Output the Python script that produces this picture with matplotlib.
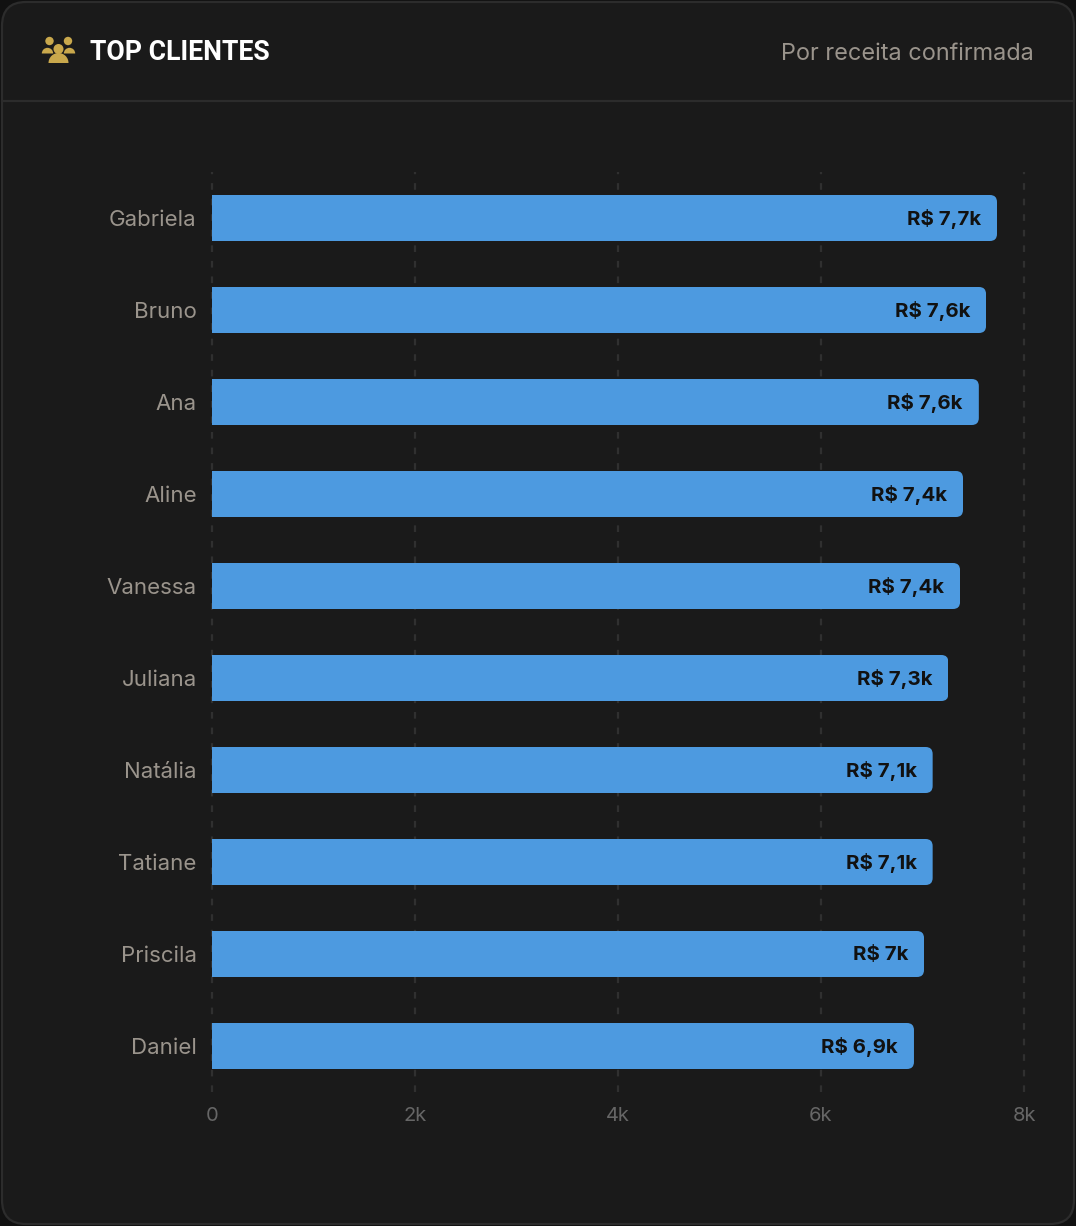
import matplotlib
matplotlib.use("Agg")
import matplotlib.pyplot as plt
from matplotlib.patches import FancyBboxPatch, Circle, Wedge
from matplotlib.transforms import IdentityTransform

clientes = ["Gabriela", "Bruno", "Ana", "Aline", "Vanessa", "Juliana", "Natália", "Tatiane", "Priscila", "Daniel"]
receita = [7734, 7626, 7555, 7399, 7370, 7255, 7100, 7100, 7015, 6916]
x_ticks = [0, 2000, 4000, 6000, 8000]
x_tick_labels = ["0", "2k", "4k", "6k", "8k"]

AZUL = "#4d9ae0"
OURO = "#c9a84c"
FUNDO = "#1a1a1a"
BORDA = "#2c2c2c"
W, H = 1076, 1226


def moeda(v):
    s = f"{v / 1000:.1f}"
    if s.endswith(".0"):
        s = s[:-2]
    return "R$ " + s.replace(".", ",") + "k"


fig = plt.figure(figsize=(W / 100, H / 100), dpi=100, facecolor="#111111")

# camada do cartao em pixels
bg = fig.add_axes([0, 0, 1, 1])
bg.set_xlim(0, W)
bg.set_ylim(H, 0)
bg.axis("off")
bg.add_patch(FancyBboxPatch((2, 2), W - 4, H - 4, boxstyle="round,pad=0,rounding_size=24",
                            fc=FUNDO, ec=BORDA, lw=1.6))
bg.plot([2, W - 2], [101, 101], color=BORDA, lw=1.6)

# icone de pessoas
for cx, cy, r in [(49.5, 41, 4.2), (68, 41, 4.2), (58.5, 49, 5)]:
    bg.add_patch(Circle((cx, cy), r, fc=OURO, ec="none"))
bg.add_patch(Wedge((47.5, 53.5), 5.7, 180, 360, fc=OURO, ec="none"))
bg.add_patch(Wedge((69.5, 53.5), 5.7, 180, 360, fc=OURO, ec="none"))
bg.add_patch(Wedge((58.5, 63), 10, 180, 360, fc=OURO, ec="none"))

bg.text(90, 53, "TOP CLIENTES", color="#ffffff", fontsize=19.2, fontweight="bold",
        family="Roboto", va="center", ha="left")
bg.text(1034, 54, "Por receita confirmada", color="#9a948c", fontsize=16.9, family="Inter",
        va="center", ha="right")

# grafico de barras
ax = fig.add_axes([212 / W, 1 - 1092 / H, (1024 - 212) / W, (1092 - 172) / H])
ax.patch.set_alpha(0)
ax.set_xlim(0, 8000)
ax.set_ylim(len(clientes) - 0.5, -0.5)
ax.set_xticks(x_ticks)
ax.set_xticklabels(x_tick_labels, color="#666666", fontsize=14.5, family="Inter")
ax.set_yticks(range(len(clientes)))
ax.set_yticklabels(clientes, color="#9a948c", fontsize=16, family="Inter")
ax.tick_params(length=0)
ax.tick_params(axis="x", pad=11)
ax.tick_params(axis="y", pad=11)
for s in ax.spines.values():
    s.set_visible(False)
ax.grid(axis="x", color="#303030", lw=1.6, ls=(0, (3, 4)), clip_on=False)
ax.set_axisbelow(True)

barras = ax.barh(range(len(clientes)), receita, height=0.5, color=AZUL)
for b, v in zip(barras, receita):
    # so o lado direito fica arredondado
    e = b.get_window_extent(fig.canvas.get_renderer())
    clip = FancyBboxPatch((e.x0 - 20, e.y0), e.width + 20, e.height, boxstyle="round,pad=0,rounding_size=7",
                          transform=IdentityTransform())
    b.set_clip_path(clip)
    ax.annotate(moeda(v), (v, b.get_y() + b.get_height() / 2), xytext=(-16, -1), textcoords="offset pixels",
                ha="right", va="center", color="#111111", fontsize=14.7, fontweight="bold", family="Inter")

fig.savefig("out.png", dpi=100, facecolor=fig.get_facecolor())
